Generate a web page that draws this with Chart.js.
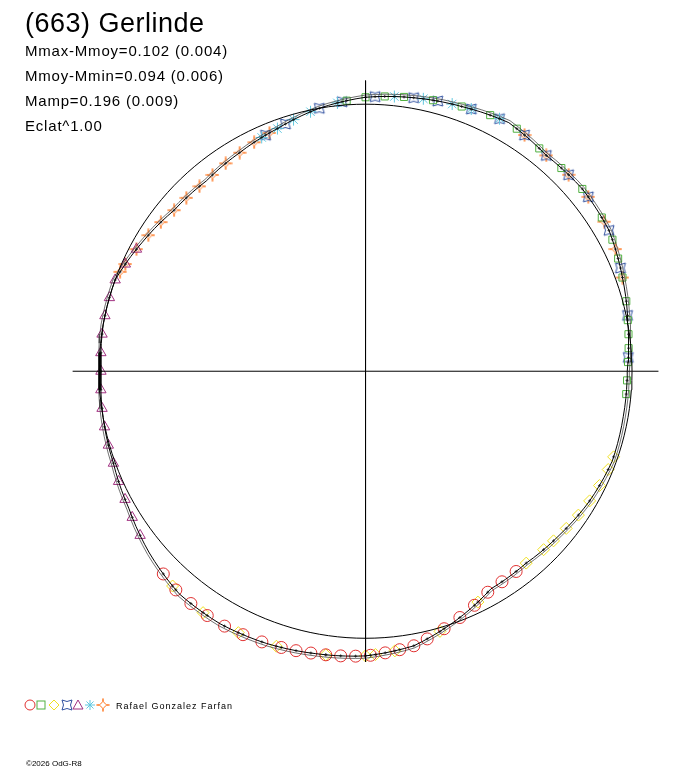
<!DOCTYPE html>
<html><head><meta charset="utf-8">
<script src="https://cdn.jsdelivr.net/npm/chart.js@4"></script>
<style>body{margin:0;background:#fff}canvas{display:block}</style>
</head><body>
<canvas id="c" width="688" height="768"></canvas>
<script>
// curve radius (relative to reference circle) every 10 degrees, 0..350
const curveAngles = [0,10,20,30,40,50,60,70,80,90,100,110,120,130,140,150,160,170,180,190,200,210,220,230,240,250,260,270,280,290,300,310,320,330,340,350];
const curveRadius = [0.982,1.000,1.026,1.055,1.062,1.055,1.075,1.055,1.040,1.026,1.000,0.967,0.945,0.930,0.938,0.967,1.000,1.000,0.993,1.000,1.007,1.026,1.059,1.088,1.092,1.085,1.074,1.066,1.044,0.993,0.941,0.938,0.952,0.971,0.985,0.982];

const redAngles = [225,229,233,237,241,245,249,253,256,259,262,265,268,271,274,277,280,283,287,291,295,299,303,307];
const yellowAngles = [228,236,244,252,262,270,272,276,286,296,310,315,318,322,326,330,334,338,341];
const greenAngles = [355,358,2,5,8,11,15,20,24,28,33,40,46,52,58,64,70,76,82,86,90,94];
const blueAngles = [3,12,22,30,38,44,50,56,62,68,75,80,88,95,100,108,113];
const cyanAngles = [62,68,72,78,84,96,102,106,110,114];
const purpleAngles = [152,156,160,164,168,172,176,180,184,188,192,196,200,204,208,212,216];
const orangeAngles = [112,116,120,124,128,132,136,140,144,148,152,156,158,20,26,32,38,44,50,56];

const R = 272, CX = 366, CY = 371;

function radiusAt(a) {
  a = ((a % 360) + 360) % 360;
  const i = Math.floor(a / 10), f = (a - i * 10) / 10;
  const r0 = curveRadius[i], r1 = curveRadius[(i + 1) % curveRadius.length];
  return r0 + (r1 - r0) * f;
}
function toXY(a, r) {
  const t = a * Math.PI / 180;
  return { x: r * Math.cos(t), y: r * Math.sin(t) };
}
const onCurve = angles => angles.map(a => toXY(a, radiusAt(a)));

function shape(color, draw) {
  const c = document.createElement('canvas');
  c.width = 14; c.height = 14;
  const g = c.getContext('2d');
  g.strokeStyle = color; g.lineWidth = 1;
  g.beginPath(); draw(g); g.stroke();
  return c;
}
const orangeStar = shape('#ff8030', g => {
  g.moveTo(7, 0.5); g.quadraticCurveTo(7, 7, 13.5, 7); g.quadraticCurveTo(7, 7, 7, 13.5);
  g.quadraticCurveTo(7, 7, 0.5, 7); g.quadraticCurveTo(7, 7, 7, 0.5);
});
const blueShape = shape('#3050a0', g => {
  g.moveTo(2, 2); g.quadraticCurveTo(7, 5, 12, 2); g.quadraticCurveTo(9, 7, 12, 12);
  g.quadraticCurveTo(7, 9, 2, 12); g.quadraticCurveTo(5, 7, 2, 2);
});

const curvePts = [];
for (let a = 0; a <= 360; a += 2) curvePts.push(toXY(a, radiusAt(a)));
const circlePts = [];
for (let a = 0; a <= 360; a += 2) circlePts.push(toXY(a, 1));

const allAngles = [].concat(redAngles, yellowAngles, greenAngles, blueAngles, cyanAngles, purpleAngles, orangeAngles);

function pts(data, style, color, r) {
  return { type: 'scatter', data, pointStyle: style, borderColor: color, backgroundColor: 'transparent',
           pointRadius: r, pointBorderWidth: 1, showLine: false };
}

const textPlugin = {
  id: 'texts',
  afterDraw(chart) {
    const g = chart.ctx;
    g.save();
    g.fillStyle = '#000';
    g.textBaseline = 'alphabetic';
    g.font = '27px Arial, "Liberation Sans"';
    g.letterSpacing = '0.5px';
    g.fillText('(663) Gerlinde', 25, 32);
    g.font = '15px Arial, "Liberation Sans"';
    g.letterSpacing = '0.8px';
    ['Mmax-Mmoy=0.102 (0.004)', 'Mmoy-Mmin=0.094 (0.006)', 'Mamp=0.196 (0.009)', 'Eclat^1.00']
      .forEach((t, i) => g.fillText(t, 25, 56 + i * 25));
    g.font = '9px Arial, "Liberation Sans"';
    g.letterSpacing = '1px';
    g.fillText('Rafael Gonzalez Farfan', 116, 709);
    g.letterSpacing = '0px';
    g.font = '8px Arial, "Liberation Sans"';
    g.fillText('©2026 OdG-R8', 26, 766);
    // legend symbols
    const y = 705;
    g.strokeStyle = '#e03030'; g.beginPath(); g.arc(30, y, 5, 0, 2 * Math.PI); g.stroke();
    g.strokeStyle = '#50b040'; g.strokeRect(37, y - 4, 8, 8);
    g.strokeStyle = '#f0e020'; g.beginPath(); g.moveTo(54, y - 5); g.lineTo(59, y); g.lineTo(54, y + 5); g.lineTo(49, y); g.closePath(); g.stroke();
    g.drawImage(blueShape, 60, y - 7);
    g.strokeStyle = '#a03080'; g.beginPath(); g.moveTo(78, y - 5); g.lineTo(83, y + 4); g.lineTo(73, y + 4); g.closePath(); g.stroke();
    g.strokeStyle = '#60c8e0'; Chart.helpers.drawPoint(g, { pointStyle: 'star', radius: 5, borderWidth: 1 }, 90, y);
    g.drawImage(orangeStar, 96, y - 7);
    g.restore();
  }
};

new Chart(document.getElementById('c'), {
  type: 'scatter',
  data: {
    datasets: [
      { type: 'line', data: [{ x: -299 / R, y: 0 }, { x: 299 / R, y: 0 }], borderColor: '#000', borderWidth: 1, pointRadius: 0 },
      { type: 'line', data: [{ x: 0, y: 296 / R }, { x: 0, y: -296 / R }], borderColor: '#000', borderWidth: 1, pointRadius: 0 },
      { type: 'line', data: circlePts, borderColor: '#000', borderWidth: 1, pointRadius: 0 },
      { type: 'line', data: curvePts, borderColor: '#000', borderWidth: 1, pointRadius: 0 },
      { type: 'line', data: curvePts.map(p => ({ x: p.x * 1.008, y: p.y * 1.008 })), borderColor: '#333', borderWidth: 0.7, pointRadius: 0 },
      pts(onCurve(allAngles), 'cross', '#444', 1.5),
      pts(onCurve(redAngles), 'circle', '#e03030', 6),
      pts(onCurve(yellowAngles), 'rectRot', '#f0e020', 6),
      pts(onCurve(greenAngles), 'rect', '#50b040', 5),
      pts(onCurve(purpleAngles), 'triangle', '#a03080', 6),
      pts(onCurve(cyanAngles), 'star', '#60c8e0', 6),
      pts(onCurve(blueAngles), blueShape, '#3050a0', 5),
      pts(onCurve(orangeAngles), orangeStar, '#ff8030', 5)
    ]
  },
  options: {
    responsive: false, animation: false,
    layout: { padding: 0 },
    plugins: { legend: { display: false }, tooltip: { enabled: false } },
    scales: {
      x: { type: 'linear', display: false, min: -CX / R, max: (688 - CX) / R },
      y: { type: 'linear', display: false, min: -(768 - CY) / R, max: CY / R }
    }
  },
  plugins: [textPlugin]
});
</script>
</body></html>
